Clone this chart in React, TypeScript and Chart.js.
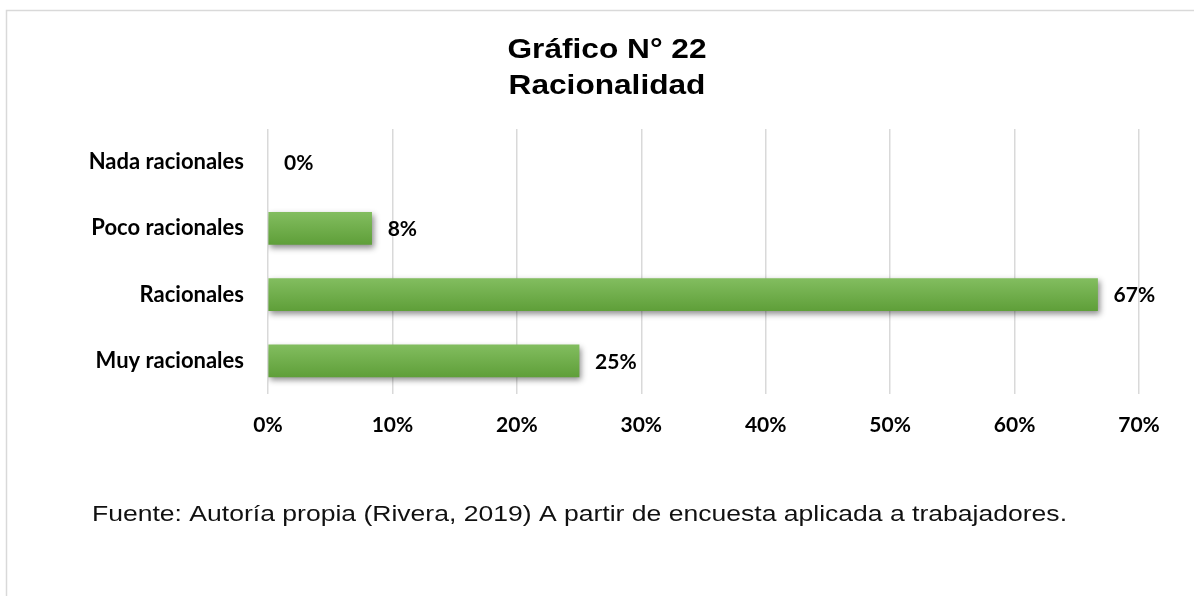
import React, { useEffect, useRef } from 'react';
import { Chart, registerables } from 'chart.js';

Chart.register(...registerables);

const categories = ['Nada racionales', 'Poco racionales', 'Racionales', 'Muy racionales'];
const values = [0, 8.33, 66.67, 25];
const valueLabels = ['0%', '8%', '67%', '25%'];
const xMin = 0;
const xMax = 70;
const xStep = 10;
const titleLines = ['Gráfico N° 22', 'Racionalidad'];
const sourceNote = 'Fuente: Autoría propia (Rivera, 2019) A partir de encuesta aplicada a trabajadores.';

const LABEL_FONT = 'Lato, "Open Sans", sans-serif';
const TITLE_FONT = '"Liberation Sans", Arial, sans-serif';

const decor = {
  id: 'decor',
  beforeDraw(chart: any) {
    const ctx = chart.ctx;
    ctx.save();
    ctx.fillStyle = '#ffffff';
    ctx.fillRect(0, 0, chart.width, chart.height);
    ctx.strokeStyle = '#d9d9d9';
    ctx.lineWidth = 1.5;
    ctx.strokeRect(6.5, 10.5, chart.width + 20, chart.height + 20);
    ctx.restore();
  },
  beforeDatasetsDraw(chart: any) {
    const ctx = chart.ctx;
    ctx.save();
    ctx.shadowColor = 'rgba(0,0,0,0.45)';
    ctx.shadowBlur = 6;
    ctx.shadowOffsetX = 2;
    ctx.shadowOffsetY = 3;
  },
  afterDatasetsDraw(chart: any) {
    const ctx = chart.ctx;
    ctx.restore();
    const meta = chart.getDatasetMeta(0);
    ctx.save();
    ctx.fillStyle = '#000000';
    ctx.font = `bold 21px ${LABEL_FONT}`;
    ctx.textAlign = 'left';
    ctx.textBaseline = 'middle';
    meta.data.forEach((el: any, i: number) => {
      ctx.fillText(valueLabels[i], el.x + 16, el.y + 1);
    });
    ctx.restore();
  },
  afterDraw(chart: any) {
    const ctx = chart.ctx;
    ctx.save();
    ctx.fillStyle = '#000000';
    ctx.font = `bold 28px ${TITLE_FONT}`;
    const w1 = ctx.measureText(titleLines[0]).width;
    const sx = 199 / w1;
    const baselines = [58, 94];
    titleLines.forEach((t, i) => {
      ctx.save();
      ctx.translate(607, baselines[i]);
      ctx.scale(sx, 1);
      ctx.textAlign = 'center';
      ctx.textBaseline = 'alphabetic';
      ctx.fillText(t, 0, 0);
      ctx.restore();
    });
    ctx.font = `22px ${TITLE_FONT}`;
    const wn = ctx.measureText(sourceNote).width;
    const sn = 975 / wn;
    ctx.translate(92, 521);
    ctx.scale(sn, 1);
    ctx.textAlign = 'left';
    ctx.textBaseline = 'alphabetic';
    ctx.fillStyle = '#111111';
    ctx.fillText(sourceNote, 0, 0);
    ctx.restore();
  },
};

export default function App() {
  const canvasRef = useRef<HTMLCanvasElement | null>(null);

  useEffect(() => {
    if (!canvasRef.current) return;
    const chart = new Chart(canvasRef.current, {
      type: 'bar',
      data: {
        labels: categories,
        datasets: [
          {
            data: values,
            barThickness: 32,
            borderWidth: 0,
            backgroundColor: (c: any) => {
              const ch = c.chart;
              const y = ch.scales?.y;
              if (c.raw === 0) return 'rgba(0,0,0,0)';
              if (!y || c.dataIndex === undefined) return '#70ad47';
              const py = y.getPixelForValue(c.dataIndex);
              if (!Number.isFinite(py)) return '#70ad47';
              const g = ch.ctx.createLinearGradient(0, py - 16, 0, py + 16);
              g.addColorStop(0, '#82bd5f');
              g.addColorStop(1, '#5f9f39');
              return g;
            },
          },
        ],
      },
      options: {
        indexAxis: 'y',
        animation: false,
        responsive: true,
        maintainAspectRatio: false,
        layout: { padding: { left: 0, top: 129, right: 55, bottom: 0 } },
        plugins: {
          legend: { display: false },
          tooltip: { enabled: false },
          title: { display: false },
        },
        scales: {
          x: {
            type: 'linear',
            min: xMin,
            max: xMax,
            ticks: {
              stepSize: xStep,
              callback: (v: any) => `${v}%`,
              color: '#000000',
              font: { family: LABEL_FONT, size: 21, weight: 'bold' },
              padding: 19,
            },
            grid: { color: '#d9d9d9', lineWidth: 1.5, drawTicks: false },
            border: { display: false },
            afterFit: (s: any) => {
              s.height = 202;
            },
          },
          y: {
            type: 'category',
            ticks: {
              color: '#000000',
              font: { family: LABEL_FONT, size: 22, weight: 'bold' },
              padding: 24,
            },
            grid: { display: false, drawTicks: false },
            border: { display: false },
            afterFit: (s: any) => {
              s.width = 268;
            },
          },
        },
      },
      plugins: [decor],
    });
    return () => chart.destroy();
  }, []);

  return (
    <div style={{ position: 'fixed', left: 0, top: 0, width: 1194, height: 596, background: '#fff' }}>
      <canvas ref={canvasRef} />
    </div>
  );
}
